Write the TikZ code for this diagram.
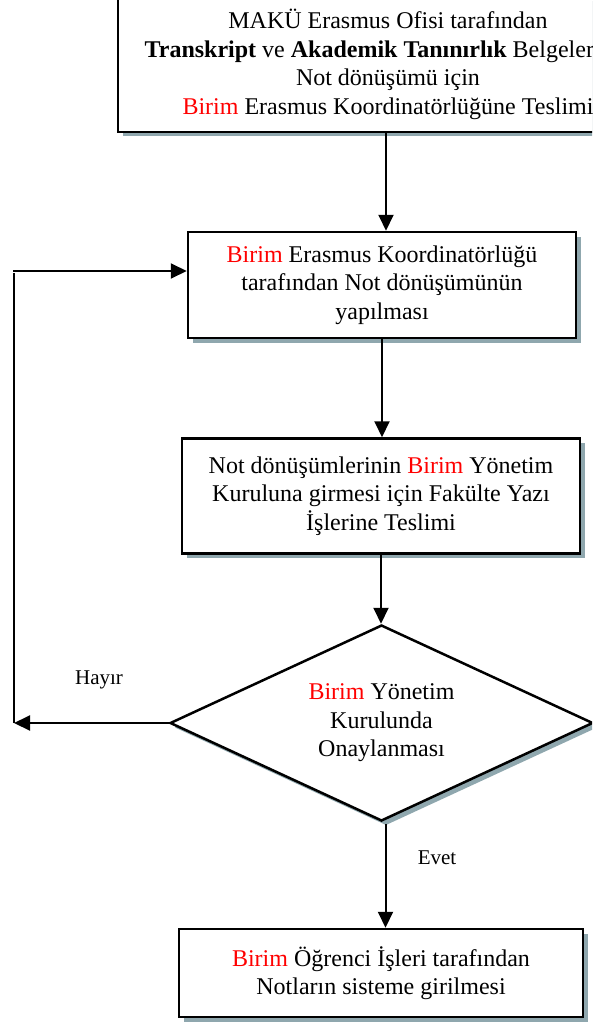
\documentclass[tikz,border=0pt]{standalone}
\usepackage{fontspec}
\setmainfont{Liberation Serif}
\usetikzlibrary{arrows.meta,shapes.geometric,shadows}
\definecolor{shc}{HTML}{8FA7AE}
\begin{document}
\begin{tikzpicture}[x=1pt,y=-1pt,
 shd/.style={drop shadow={shadow xshift=4.5pt,shadow yshift=-4.5pt,fill=shc,opacity=1}},
 box/.style={draw,line width=2.5pt,fill=white,align=center,inner sep=0pt,
   font=\fontsize{24}{28.5}\selectfont,shd},
 dia/.style={diamond,draw,line width=2.5pt,fill=white,align=center,inner sep=0pt,
   font=\fontsize{24}{28.5}\selectfont,shd,aspect=2.16},
 arr/.style={line width=2pt,-{Triangle[length=16pt,width=15pt]}},
 ln/.style={line width=2pt},
 lbl/.style={font=\fontsize{21}{25}\selectfont,inner sep=0pt}]
\useasboundingbox (0,0) rectangle (592,1027);
\clip (0,0) rectangle (592,1027);

\node[box,minimum width=540pt,minimum height=135pt] (t) at (388,64.5)
 {MAKÜ Erasmus Ofisi tarafından\\
  \textbf{Transkript} ve \textbf{Akademik Tanınırlık} Belgelerinin\\
  Not dönüşümü için\\
  \textcolor{red}{Birim} Erasmus Koordinatörlüğüne Teslimi};

\node[box,minimum width=388pt,minimum height=106pt] (b2) at (382,285)
 {\textcolor{red}{Birim} Erasmus Koordinatörlüğü\\
  tarafından Not dönüşümünün\\
  yapılması};

\node[box,minimum width=398pt,minimum height=115pt] (b3) at (381,496)
 {Not dönüşümlerinin \textcolor{red}{Birim} Yönetim\\
  Kuruluna girmesi için Fakülte Yazı\\
  İşlerine Teslimi};

\node[dia,minimum width=423pt,minimum height=196pt] (d) at (381.5,723)
 {\textcolor{red}{Birim} Yönetim\\ Kurulunda\\ Onaylanması};

\node[box,minimum width=404pt,minimum height=88pt] (b4) at (381,973)
 {\textcolor{red}{Birim} Öğrenci İşleri tarafından\\
  Notların sisteme girilmesi};

\coordinate (a1) at ([xshift=-2pt]t.south);
\draw[arr] (a1) -- (a1 |- b2.north);
\draw[arr] (b2.south) -- (b2.south |- b3.north);
\draw[arr] (b3.south) -- (b3.south |- d.north);
\coordinate (e1) at ([xshift=4pt,yshift=-2pt]d.south);
\draw[arr] (e1) -- (e1 |- b4.north);

\coordinate (l1) at (14,723);
\coordinate (l2) at (14,273);
\coordinate (l3) at (13,271);
\draw[arr] (d.west) -- (l1);
\draw[ln] (l1) -- (l2);
\draw[arr] (l3) -- (l3 -| b2.west);

\node[lbl] (hayir) at (99,680) {Hayır};
\node[lbl] (evet) at (437,858) {Evet};
\end{tikzpicture}
\end{document}
